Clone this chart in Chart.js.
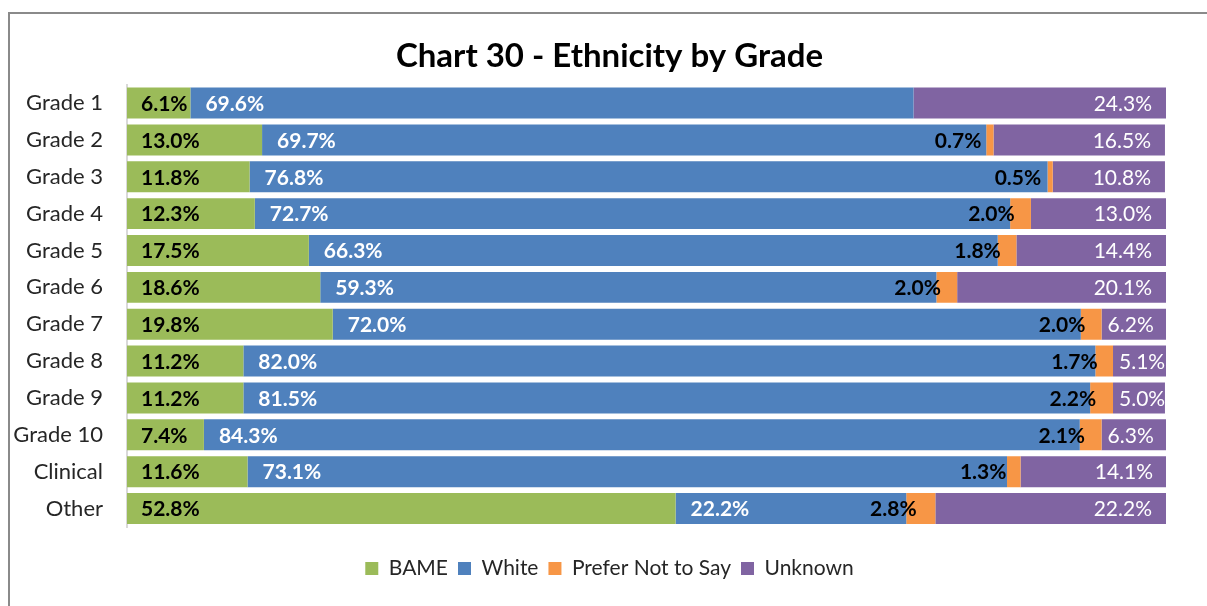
<!DOCTYPE html>
<html>
<head>
<meta charset="utf-8">
<script src="https://cdn.jsdelivr.net/npm/chart.js@4"></script>
<style>
  body { margin: 0; background: #fff; }
  #frame { position: absolute; left: 8px; top: 12px; width: 1300px; height: 700px; border: 2px solid #8a8a8a; box-sizing: border-box; }
  #wrap { position: absolute; left: 0; top: 0; width: 1207px; height: 606px; }
</style>
</head>
<body>
<div id="frame"></div>
<div id="wrap"><canvas id="chart"></canvas></div>
<script>
const categories = ["Grade 1", "Grade 2", "Grade 3", "Grade 4", "Grade 5", "Grade 6", "Grade 7", "Grade 8", "Grade 9", "Grade 10", "Clinical", "Other"];
const bame = [6.1, 13.0, 11.8, 12.3, 17.5, 18.6, 19.8, 11.2, 11.2, 7.4, 11.6, 52.8];
const white = [69.6, 69.7, 76.8, 72.7, 66.3, 59.3, 72.0, 82.0, 81.5, 84.3, 73.1, 22.2];
const preferNot = [0, 0.7, 0.5, 2.0, 1.8, 2.0, 2.0, 1.7, 2.2, 2.1, 1.3, 2.8];
const unknown = [24.3, 16.5, 10.8, 13.0, 14.4, 20.1, 6.2, 5.1, 5.0, 6.3, 14.1, 22.2];

const FONT = "Lato";

// draws the % label of each segment, placed the way the original sheet has them
const segLabels = {
  id: "segLabels",
  afterDatasetsDraw(chart) {
    const ctx = chart.ctx;
    ctx.save();
    ctx.textBaseline = "middle";
    chart.data.datasets.forEach((ds, di) => {
      const meta = chart.getDatasetMeta(di);
      meta.data.forEach((bar, i) => {
        const v = ds.data[i];
        if (!v) return;
        const { x, base, y } = bar.getProps(["x", "base", "y"], true);
        const w = x - base;
        const txt = v.toFixed(1) + "%";
        if (di === 0) {
          ctx.font = `bold 21px ${FONT}`;
          ctx.fillStyle = "#000";
          ctx.textAlign = "left";
          ctx.fillText(txt, base + 14, y + 1);
        } else if (di === 1) {
          ctx.font = `bold 21px ${FONT}`;
          ctx.fillStyle = "#fff";
          ctx.textAlign = "left";
          ctx.fillText(txt, base + 15, y + 1);
        } else if (di === 2) {
          ctx.font = `bold 21px ${FONT}`;
          ctx.fillStyle = "#000";
          ctx.textAlign = "right";
          ctx.fillText(txt, base + w * 0.7 - 10, y + 1);
        } else {
          ctx.font = `21px ${FONT}`;
          ctx.fillStyle = "#fff";
          ctx.textAlign = "left";
          const tw = ctx.measureText(txt).width;
          ctx.fillText(txt, Math.max(base + 6, x - 14 - tw), y + 1);
        }
      });
    });
    ctx.restore();
  },
};

new Chart(document.getElementById("chart"), {
  type: "bar",
  data: {
    labels: categories,
    datasets: [
      { label: "BAME", data: bame, backgroundColor: "#9BBB59" },
      { label: "White", data: white, backgroundColor: "#4F81BD" },
      { label: "Prefer Not to Say", data: preferNot, backgroundColor: "#F79646" },
      { label: "Unknown", data: unknown, backgroundColor: "#8064A2" },
    ],
  },
  options: {
    indexAxis: "y",
    responsive: true,
    maintainAspectRatio: false,
    animation: false,
    datasets: { bar: { barPercentage: 0.84, categoryPercentage: 1, borderWidth: 0 } },
    layout: { padding: { left: 12, right: 0, top: 0, bottom: 17 } },
    scales: {
      x: {
        stacked: true,
        min: 0,
        max: 100,
        display: true,
        ticks: { display: false },
        grid: { display: false, drawTicks: false },
        border: { display: false },
        afterFit: (s) => { s.height = 21; },
      },
      y: {
        stacked: true,
        grid: { display: false, drawTicks: false },
        border: { display: true, color: "#d9d9d9", width: 2 },
        ticks: { padding: 24, color: "#262626", font: { family: FONT, size: 22 } },
        afterFit: (s) => { s.width = 115; },
      },
      // empty right-hand axis, only keeps the plot clear of the right edge
      yRight: {
        position: "right",
        display: true,
        ticks: { display: false },
        grid: { display: false, drawTicks: false },
        border: { display: false },
        afterFit: (s) => { s.width = 41; },
      },
    },
    plugins: {
      title: {
        display: true,
        text: "Chart 30 - Ethnicity by Grade",
        color: "#000",
        font: { family: FONT, size: 33, weight: "bold" },
        padding: { top: 37, bottom: 8 },
      },
      legend: {
        position: "bottom",
        labels: {
          boxWidth: 13,
          boxHeight: 13,
          padding: 10,
          color: "#262626",
          font: { family: FONT, size: 21 },
        },
      },
      tooltip: { enabled: false },
    },
  },
  plugins: [segLabels],
});
</script>
</body>
</html>
